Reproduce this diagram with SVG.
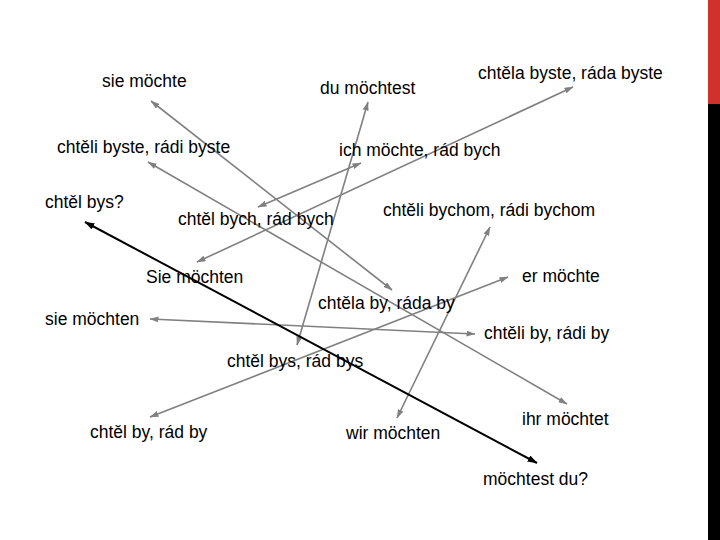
<svg xmlns="http://www.w3.org/2000/svg" width="720" height="540" viewBox="0 0 720 540">
<style>
text{font-family:"Liberation Sans",Arial,sans-serif;font-size:17.5px;fill:#000}
.g{stroke:#808080;stroke-width:1.6;fill:none;marker-start:url(#ag);marker-end:url(#ag)}
.k{stroke:#000;stroke-width:2;fill:none;marker-start:url(#ak);marker-end:url(#ak)}
</style>
<defs>
<marker id="ag" viewBox="0 0 9 6" refX="8.5" refY="3" markerWidth="9" markerHeight="6" markerUnits="userSpaceOnUse" orient="auto-start-reverse"><path d="M0,0 L9,3 L0,6 z" fill="#808080"/></marker>
<marker id="ak" viewBox="0 0 10 7" refX="9.5" refY="3.5" markerWidth="10" markerHeight="7" markerUnits="userSpaceOnUse" orient="auto-start-reverse"><path d="M0,0 L10,3.5 L0,7 z" fill="#000"/></marker>
</defs>
<rect width="720" height="540" fill="#fff"/>
<rect x="708" y="0" width="12" height="104" fill="#d0312d"/>
<rect x="708" y="104" width="12" height="436" fill="#000"/>
<g id="connectors">
<line class="g" x1="151" y1="101" x2="392" y2="290"/>
<line class="g" x1="148" y1="162" x2="567" y2="404"/>
<line class="g" x1="258" y1="207" x2="361" y2="163"/>
<line class="g" x1="197" y1="262" x2="573" y2="87"/>
<line class="g" x1="368" y1="102" x2="297" y2="345"/>
<line class="g" x1="490" y1="227" x2="397" y2="418"/>
<line class="g" x1="150" y1="319" x2="475" y2="334"/>
<line class="g" x1="150" y1="417" x2="508" y2="277"/>
<line class="k" x1="85" y1="222" x2="537" y2="463"/>
</g>
<g id="n1"><text x="102" y="87">sie möchte</text></g>
<g id="n2"><text x="320" y="94">du möchtest</text></g>
<g id="n3"><text x="478" y="79">chtěla byste, ráda byste</text></g>
<g id="n4"><text x="57" y="153">chtěli byste, rádi byste</text></g>
<g id="n5"><text x="339" y="156">ich möchte, rád bych</text></g>
<g id="n6"><text x="45" y="208">chtěl bys?</text></g>
<g id="n7"><text x="178" y="225">chtěl bych, rád bych</text></g>
<g id="n8"><text x="383" y="216">chtěli bychom, rádi bychom</text></g>
<g id="n9"><text x="146" y="283">Sie möchten</text></g>
<g id="n10"><text x="522" y="282">er möchte</text></g>
<g id="n11"><text x="318" y="309">chtěla by, ráda by</text></g>
<g id="n12"><text x="45" y="325">sie möchten</text></g>
<g id="n13"><text x="484" y="339">chtěli by, rádi by</text></g>
<g id="n14"><text x="227" y="367">chtěl bys, rád bys</text></g>
<g id="n15"><text x="90" y="438">chtěl by, rád by</text></g>
<g id="n16"><text x="346" y="439">wir möchten</text></g>
<g id="n17"><text x="522" y="425">ihr möchtet</text></g>
<g id="n18"><text x="483" y="485">möchtest du?</text></g>
</svg>
